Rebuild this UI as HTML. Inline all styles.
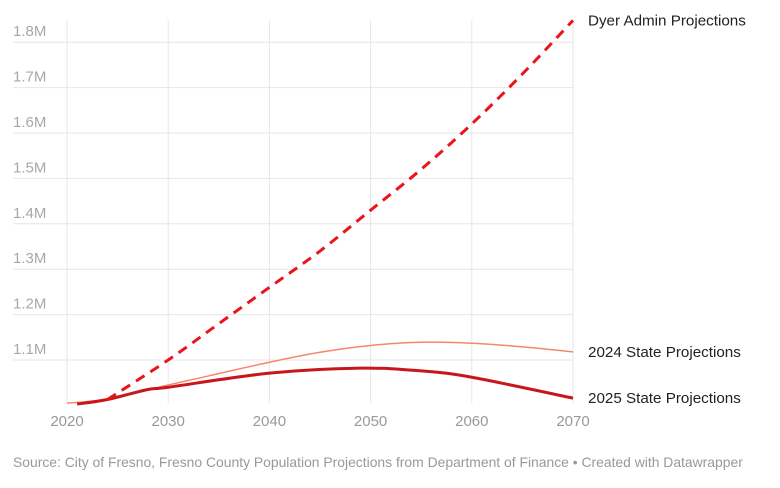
<!DOCTYPE html>
<html><head><meta charset="utf-8"><style>
body{margin:0;background:#fff;font-family:"Liberation Sans",sans-serif}
</style></head><body>
<svg id="c" width="780" height="483" xmlns="http://www.w3.org/2000/svg"></svg>
<script>
const xTicks=[2020,2030,2040,2050,2060,2070];
const yTicks=[1.1,1.2,1.3,1.4,1.5,1.6,1.7,1.8];
const yTickLabels=["1.1M","1.2M","1.3M","1.4M","1.5M","1.6M","1.7M","1.8M"];
const dyerYears=[2024,2030,2035,2040,2045,2050,2055,2060,2065,2070];
const dyerVals=[1.013,1.10,1.18,1.26,1.34,1.43,1.52,1.62,1.73,1.848];
const s24Years=[2020,2024,2030,2035,2040,2045,2050,2055,2060,2065,2070];
const s24Vals=[1.005,1.014,1.045,1.070,1.095,1.117,1.132,1.139,1.137,1.129,1.118];
const s25Years=[2021,2024,2028,2030,2040,2049,2055,2060,2070];
const s25Vals=[1.003,1.013,1.035,1.040,1.071,1.082,1.076,1.062,1.016];
const svg=document.getElementById('c');const NS='http://www.w3.org/2000/svg';
const x=v=>67+(v-2020)*10.12;
const y=v=>360-(v-1.1)*454;
function mk(t,a,p){const e=document.createElementNS(NS,t);for(const k in a)e.setAttribute(k,a[k]);(p||svg).appendChild(e);return e;}
yTicks.forEach((t,i)=>{
 const l=mk('line',{x1:13,x2:573,y1:y(t),y2:y(t),stroke:'#e6e6e6','stroke-width':1});
 
 
 const tx=mk('text',{x:13,y:y(t)-6,fill:'#a8a8a8','font-size':15});tx.textContent=yTickLabels[i];
 
 
});
xTicks.forEach(t=>{
 const l=mk('line',{x1:x(t),x2:x(t),y1:20,y2:403,stroke:'#e6e6e6','stroke-width':1});
 
 
 const tx=mk('text',{x:x(t),y:426,fill:'#999','font-size':15,'text-anchor':'middle'});tx.textContent=t;
 
 
});
function path(xs,vs){const p=xs.map((a,i)=>[x(a),y(vs[i])]);let d='M'+p[0];
 for(let i=0;i<p.length-1;i++){const p0=p[i-1]||p[i],p1=p[i],p2=p[i+1],p3=p[i+2]||p2;
  d+=` C${p1[0]+(p2[0]-p0[0])/6},${p1[1]+(p2[1]-p0[1])/6} ${p2[0]-(p3[0]-p1[0])/6},${p2[1]-(p3[1]-p1[1])/6} ${p2[0]},${p2[1]}`;}return d;}
const a=mk('path',{d:path(s24Years,s24Vals),fill:'none',stroke:'#f7876c','stroke-width':1.5});


const b=mk('path',{d:path(s25Years,s25Vals),fill:'none',stroke:'#c8161d','stroke-width':3});


const c=mk('path',{d:path(dyerYears,dyerVals),fill:'none',stroke:'#e8151c','stroke-width':3,'stroke-dasharray':'10,7'});


[["Dyer Admin Projections",dyerVals[dyerVals.length-1]],["2024 State Projections",s24Vals[s24Vals.length-1]],["2025 State Projections",s25Vals[s25Vals.length-1]]].forEach(([n,v])=>{
 const t=mk('text',{x:588,y:y(v)+5,fill:'#222','font-size':15.2});t.textContent=n;
 
 
});
const s=mk('text',{x:13,y:467,fill:'#999','font-size':13.9});
s.textContent="Source: City of Fresno, Fresno County Population Projections from Department of Finance • Created with Datawrapper";


</script>
</body></html>
